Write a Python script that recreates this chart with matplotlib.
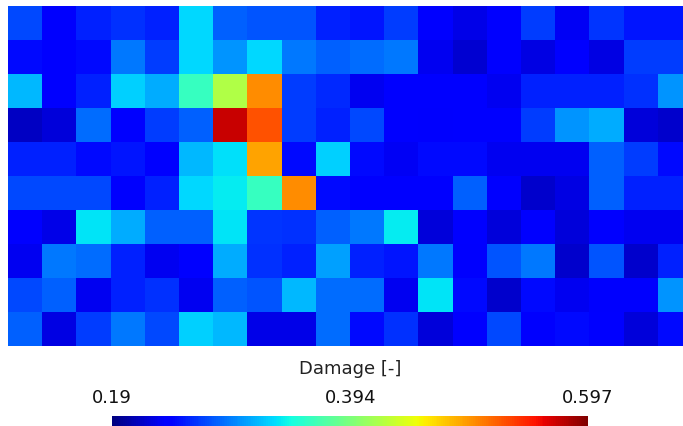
import numpy as np
import matplotlib
matplotlib.use('Agg')
import matplotlib.pyplot as plt

# damage per element, top row first (20 columns x 10 rows)
row0 = [0.27, 0.235, 0.255, 0.26, 0.255, 0.328, 0.28, 0.275, 0.275, 0.255, 0.25, 0.265, 0.24, 0.228, 0.24, 0.265, 0.232, 0.262, 0.25, 0.25]
row1 = [0.245, 0.24, 0.245, 0.29, 0.265, 0.328, 0.30, 0.328, 0.29, 0.28, 0.285, 0.29, 0.23, 0.22, 0.237, 0.225, 0.237, 0.225, 0.265, 0.265]
row2 = [0.315, 0.24, 0.255, 0.325, 0.31, 0.36, 0.42, 0.50, 0.265, 0.258, 0.23, 0.24, 0.24, 0.24, 0.23, 0.255, 0.255, 0.255, 0.26, 0.30]
row3 = [0.215, 0.222, 0.285, 0.24, 0.265, 0.28, 0.57, 0.525, 0.265, 0.255, 0.27, 0.24, 0.235, 0.24, 0.24, 0.265, 0.30, 0.31, 0.222, 0.218]
row4 = [0.255, 0.255, 0.245, 0.25, 0.24, 0.315, 0.33, 0.49, 0.245, 0.325, 0.245, 0.232, 0.245, 0.245, 0.23, 0.23, 0.23, 0.28, 0.265, 0.245]
row5 = [0.27, 0.27, 0.27, 0.235, 0.255, 0.328, 0.335, 0.36, 0.50, 0.245, 0.24, 0.238, 0.238, 0.28, 0.24, 0.218, 0.225, 0.28, 0.255, 0.255]
row6 = [0.24, 0.228, 0.333, 0.31, 0.28, 0.28, 0.333, 0.262, 0.26, 0.28, 0.29, 0.335, 0.222, 0.238, 0.222, 0.24, 0.222, 0.238, 0.23, 0.23]
row7 = [0.23, 0.29, 0.285, 0.255, 0.23, 0.238, 0.31, 0.26, 0.255, 0.305, 0.255, 0.25, 0.29, 0.235, 0.275, 0.29, 0.218, 0.275, 0.218, 0.255]
row8 = [0.27, 0.28, 0.23, 0.255, 0.26, 0.23, 0.28, 0.275, 0.315, 0.285, 0.285, 0.23, 0.333, 0.245, 0.218, 0.245, 0.23, 0.235, 0.235, 0.30]
row9 = [0.28, 0.225, 0.265, 0.29, 0.27, 0.325, 0.315, 0.228, 0.228, 0.285, 0.245, 0.26, 0.222, 0.238, 0.27, 0.235, 0.245, 0.238, 0.222, 0.245]

vmin, vmax = 0.19, 0.597
tick_vals = [0.19, 0.394, 0.597]
tick_labels = ['0.19', '0.394', '0.597']

damage = np.array([row0, row1, row2, row3, row4, row5, row6, row7, row8, row9])
nrows, ncols = damage.shape

W, H = 683, 427
fig = plt.figure(figsize=(W / 100, H / 100), dpi=100)

# field plot, right-most column is clipped by the figure edge
ax = fig.add_axes([8 / W, 80 / H, 675 / W, 340 / H])
im = ax.imshow(damage, cmap='jet', vmin=vmin, vmax=vmax, aspect='auto',
               interpolation='nearest', extent=(0, ncols, nrows, 0))
ax.set_xlim(0, 675 / 34.2)
ax.set_ylim(nrows, 0)
ax.set_axis_off()

# horizontal scalar bar underneath
cax = fig.add_axes([112 / W, -5 / H, 476 / W, 15 / H])
cb = fig.colorbar(im, cax=cax, orientation='horizontal', ticks=tick_vals)
cb.outline.set_visible(False)
cax.xaxis.set_ticks_position('top')
cax.xaxis.set_label_position('top')
cax.set_xticklabels(tick_labels)
cax.tick_params(axis='x', length=0, pad=7, labelsize=13, labelcolor='#111111')
cb.set_label('Damage [-]', fontsize=13, color='#222222', labelpad=11)

fig.savefig('out.png', dpi=100)
